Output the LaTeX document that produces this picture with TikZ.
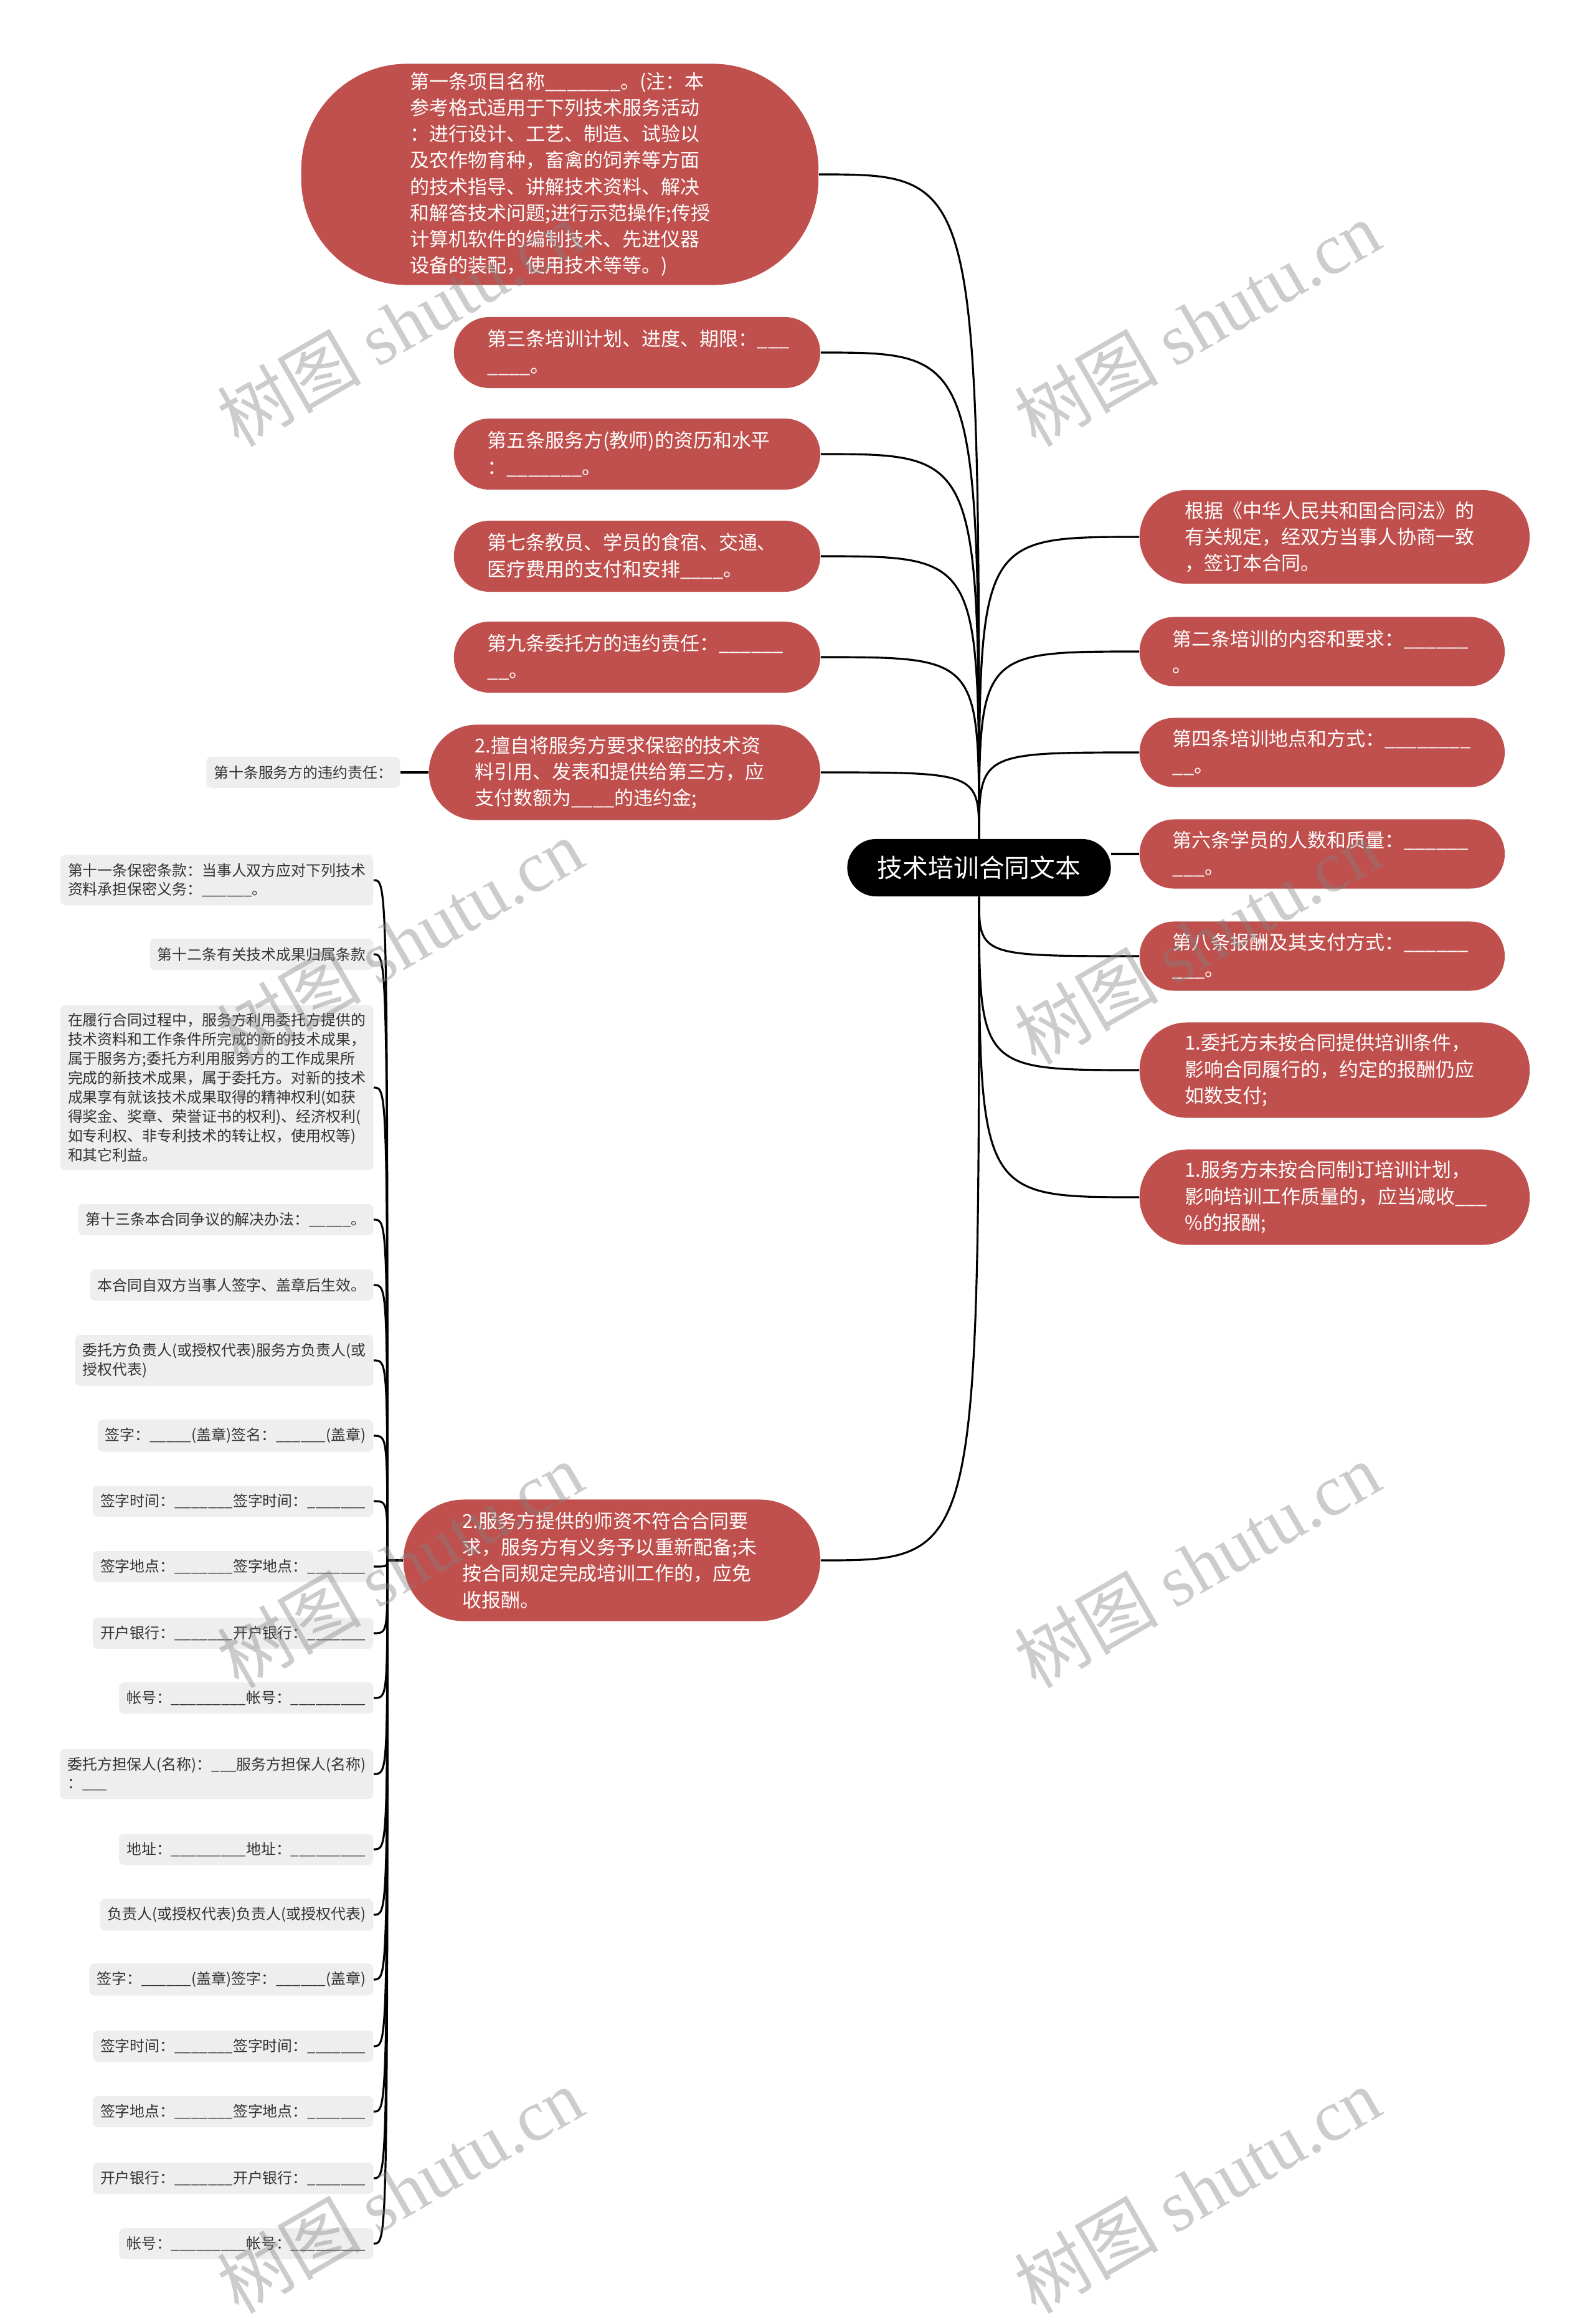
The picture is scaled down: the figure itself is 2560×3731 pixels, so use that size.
\documentclass[tikz,border=0pt]{standalone}
\usepackage{fontspec}
\setmainfont{Noto Sans CJK SC}
\newfontfamily\wmfont{Liberation Serif}
\usepackage{tikz}
\usetikzlibrary{positioning}
\definecolor{nodered}{HTML}{C0504D}
\definecolor{leafgrey}{HTML}{EEEEEE}
\definecolor{leaftext}{HTML}{333333}
\newcommand{\fillin}[1]{\foreach \k in {1,...,#1}{\_}}

\begin{document}
\begin{tikzpicture}[
    x=0.01cm, y=-0.01cm,
    link/.style={line width=0.9pt, black},
    redbox/.style={rectangle, fill=nodered, text=white, align=left, anchor=west,
                   inner ysep=0pt, font=\fontsize{8.8}{12}\selectfont},
    leaf/.style={rectangle, rounded corners=0.08cm, fill=leafgrey, text=leaftext,
                 align=left, anchor=east, inner xsep=0.12cm, inner ysep=0.13cm,
                 minimum height=0.5cm, font=\fontsize{6.8}{8.8}\selectfont},
    wmark/.style={rotate=30, text=gray, text opacity=0.4,
                  font=\fontsize{33}{33}\selectfont},
]
\useasboundingbox (0,0) rectangle (2560,3731);
\fill[white] (0,0) rectangle (2560,3731);

% Root
\node[rectangle, fill=black, text=white, minimum width=4.23cm, minimum height=0.92cm,
      rounded corners=0.46cm, font=\fontsize{11.6}{14}\selectfont] (root) at (1572,1393) {技术培训合同文本};

% Left branches
\node[redbox, text width=4.8cm, inner xsep=1.75cm, minimum height=3.55cm, rounded corners=1.7cm] (l1) at (483,280)
  {第一条项目名称\fillin{7}。(注：本\\参考格式适用于下列技术服务活动\\：进行设计、工艺、制造、试验以\\及农作物育种，畜禽的饲养等方面\\的技术指导、讲解技术资料、解决\\和解答技术问题;进行示范操作;传授\\计算机软件的编制技术、先进仪器\\设备的装配，使用技术等等。)};
\node[redbox, text width=4.8cm, inner xsep=0.54cm, minimum height=1.14cm, rounded corners=0.57cm] (l2) at (728,566)
  {第三条培训计划、进度、期限：\fillin{3}\\\fillin{4}。};
\node[redbox, text width=4.8cm, inner xsep=0.54cm, minimum height=1.14cm, rounded corners=0.57cm] (l3) at (728,729)
  {第五条服务方(教师)的资历和水平\\：\fillin{7}。};
\node[redbox, text width=4.8cm, inner xsep=0.54cm, minimum height=1.14cm, rounded corners=0.57cm] (l4) at (728,893)
  {第七条教员、学员的食宿、交通、\\医疗费用的支付和安排\fillin{4}。};
\node[redbox, text width=4.8cm, inner xsep=0.54cm, minimum height=1.14cm, rounded corners=0.57cm] (l5) at (728,1055)
  {第九条委托方的违约责任：\fillin{6}\\\fillin{2}。};
\node[redbox, text width=4.8cm, inner xsep=0.74cm, minimum height=1.53cm, rounded corners=0.76cm] (l6) at (688,1240)
  {2.擅自将服务方要求保密的技术资\\料引用、发表和提供给第三方，应\\支付数额为\fillin{4}的违约金;};
\node[redbox, text width=4.8cm, inner xsep=0.945cm, minimum height=1.95cm, rounded corners=0.97cm] (l7) at (647,2505)
  {2.服务方提供的师资不符合合同要\\求，服务方有义务予以重新配备;未\\按合同规定完成培训工作的，应免\\收报酬。};

% Right branches
\node[redbox, text width=4.8cm, inner xsep=0.73cm, minimum height=1.5cm, rounded corners=0.75cm] (r1) at (1829,862)
  {根据《中华人民共和国合同法》的\\有关规定，经双方当事人协商一致\\，签订本合同。};
\node[redbox, text width=4.8cm, inner xsep=0.53cm, minimum height=1.11cm, rounded corners=0.55cm] (r2) at (1829,1046)
  {第二条培训的内容和要求：\fillin{6}\\。};
\node[redbox, text width=4.8cm, inner xsep=0.53cm, minimum height=1.11cm, rounded corners=0.55cm] (r3) at (1829,1208)
  {第四条培训地点和方式：\fillin{8}\\\fillin{2}。};
\node[redbox, text width=4.8cm, inner xsep=0.53cm, minimum height=1.11cm, rounded corners=0.55cm] (r4) at (1829,1371)
  {第六条学员的人数和质量：\fillin{6}\\\fillin{3}。};
\node[redbox, text width=4.8cm, inner xsep=0.53cm, minimum height=1.11cm, rounded corners=0.55cm] (r5) at (1829,1535)
  {第八条报酬及其支付方式：\fillin{6}\\\fillin{3}。};
\node[redbox, text width=4.8cm, inner xsep=0.73cm, minimum height=1.53cm, rounded corners=0.76cm] (r6) at (1829,1718)
  {1.委托方未按合同提供培训条件，\\影响合同履行的，约定的报酬仍应\\如数支付;};
\node[redbox, text width=4.8cm, inner xsep=0.73cm, minimum height=1.53cm, rounded corners=0.76cm] (r7) at (1829,1922)
  {1.服务方未按合同制订培训计划，\\影响培训工作质量的，应当减收\fillin{3}\\\%的报酬;};

% Leaves
\node[leaf] (g0) at (643,1240) {第十条服务方的违约责任：};
\foreach \n/\y/\txt in {
  1/1413/{第十一条保密条款：当事人双方应对下列技术\\资料承担保密义务：\fillin{6}。},
  2/1532/{第十二条有关技术成果归属条款},
  3/1746/{在履行合同过程中，服务方利用委托方提供的\\技术资料和工作条件所完成的新的技术成果，\\属于服务方;委托方利用服务方的工作成果所\\完成的新技术成果，属于委托方。对新的技术\\成果享有就该技术成果取得的精神权利(如获\\得奖金、奖章、荣誉证书的权利)、经济权利(\\如专利权、非专利技术的转让权，使用权等)\\和其它利益。},
  4/1958/{第十三条本合同争议的解决办法：\fillin{5}。},
  5/2063/{本合同自双方当事人签字、盖章后生效。},
  6/2184/{委托方负责人(或授权代表)服务方负责人(或\\授权代表)},
  7/2305/{签字：\fillin{5}(盖章)签名：\fillin{6}(盖章)},
  8/2410/{签字时间：\fillin{7}签字时间：\fillin{7}},
  9/2515/{签字地点：\fillin{7}签字地点：\fillin{7}},
  10/2622/{开户银行：\fillin{7}开户银行：\fillin{7}},
  11/2726/{帐号：\fillin{9}帐号：\fillin{9}},
  12/2848/{委托方担保人(名称)：\fillin{3}服务方担保人(名称)\\：\fillin{3}},
  13/2969/{地址：\fillin{9}地址：\fillin{9}},
  14/3074/{负责人(或授权代表)负责人(或授权代表)},
  15/3178/{签字：\fillin{6}(盖章)签字：\fillin{6}(盖章)},
  16/3285/{签字时间：\fillin{7}签字时间：\fillin{7}},
  17/3390/{签字地点：\fillin{7}签字地点：\fillin{7}},
  18/3497/{开户银行：\fillin{7}开户银行：\fillin{7}},
  19/3602/{帐号：\fillin{9}帐号：\fillin{9}}}
  \node[leaf] (g\n) at (600,\y) {\txt};

% Links
\foreach \n in {l1,l2,l3,l4,l5,l6}
  \draw[link] (root.north) .. controls (root.north |- \n.east) .. (\n.east);
\foreach \n in {r1,r2,r3}
  \draw[link] (root.north) .. controls (root.north |- \n.west) .. (\n.west);
\draw[link] (r4.west -| root.east) -- (r4.west);
\foreach \n in {r5,r6,r7}
  \draw[link] (root.south) .. controls (root.south |- \n.west) .. (\n.west);
\draw[link] (root.south) .. controls (root.south |- l7.east) .. (l7.east);
\draw[link] (g0.east) -- (l6.west);
\coordinate (hub) at ([xshift=-0.25cm]l7.west);
\draw[link] (l7.west) -- (hub);
\foreach \i in {1,...,19}
  \draw[link] (hub) .. controls (hub |- g\i.east) .. (g\i.east);

% Watermarks
\foreach \x/\y [count=\k] in {642/519, 1922/519, 642/1511, 1922/1511, 642/2512, 1922/2512, 642/3516, 1922/3516}
  \node[wmark] (wm\k) at (\x,\y) {树图 {\wmfont shutu.cn}};
\end{tikzpicture}
\end{document}
